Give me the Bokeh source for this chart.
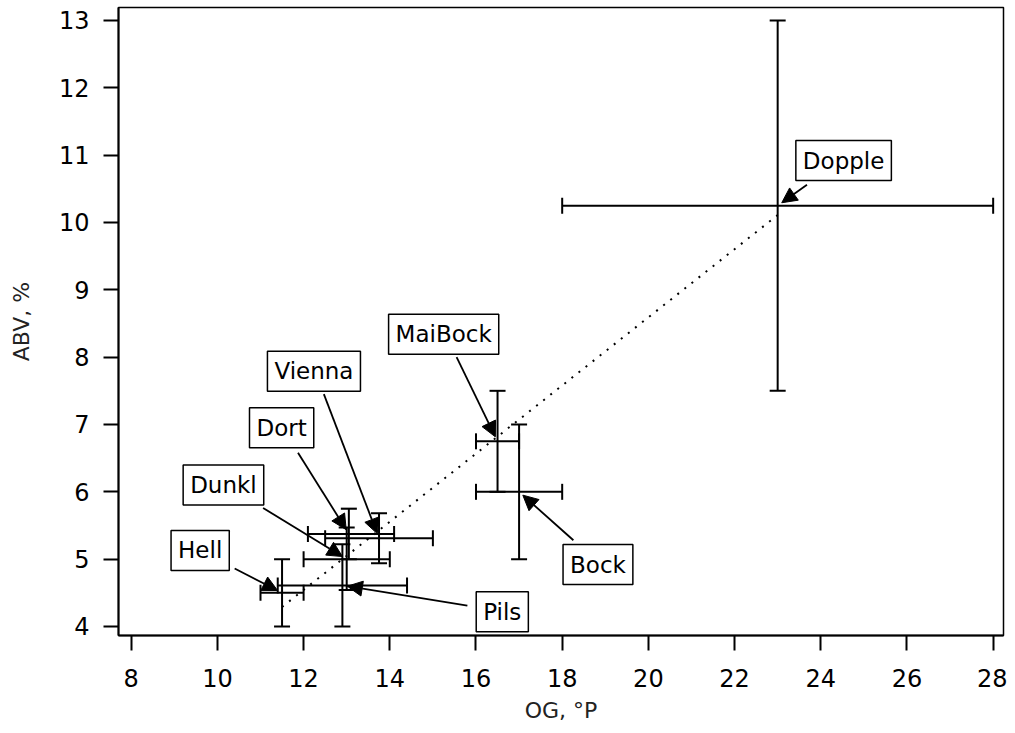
import math
from bokeh.plotting import figure
from bokeh.models import (ColumnDataSource, Whisker, TeeHead, Label, Arrow,
                          NormalHead, FixedTicker, Range1d)
from bokeh.embed import file_html
from bokeh.resources import INLINE

# ---------------- data ----------------
styles = ["Hell", "Pils", "Dunkl", "Dort", "Vienna", "MaiBock", "Bock", "Dopple"]
og     = [11.5, 12.9, 13.0, 13.05, 13.75, 16.5, 17.0, 23.0]
og_lo  = [11.0, 11.4, 12.0, 12.1, 12.5, 16.0, 16.0, 18.0]
og_hi  = [12.0, 14.4, 14.0, 14.1, 15.0, 17.0, 18.0, 28.0]
abv    = [4.5, 4.61, 5.0, 5.375, 5.31, 6.75, 6.0, 10.25]
abv_lo = [4.0, 4.0, 4.54, 5.0, 4.94, 6.0, 5.0, 7.5]
abv_hi = [5.0, 5.22, 5.47, 5.75, 5.68, 7.5, 7.0, 13.0]

trend_og  = [11.5, 23.0]
trend_abv = [4.29, 10.11]

x_ticks = [8, 10, 12, 14, 16, 18, 20, 22, 24, 26, 28]
y_ticks = [4, 5, 6, 7, 8, 9, 10, 11, 12, 13]

# label box centres and arrow start points (layout, data units)
lab_x = [9.60, 16.61, 10.14, 11.49, 12.24, 15.25, 18.83, 24.53]
lab_y = [5.13, 4.22, 6.10, 6.95, 7.79, 8.34, 4.92, 10.92]
arr_x = [10.40, 15.80, 11.06, 11.87, 12.47, 15.55, 18.26, 23.68]
arr_y = [4.86, 4.31, 5.76, 6.58, 7.45, 8.00, 5.28, 10.56]

# ---------------- figure ----------------
X0, X1 = 7.705, 28.24
Y0, Y1 = 3.866, 13.193
FW, FH = 885, 628
FONT = "DejaVu Sans"

p = figure(frame_width=FW, frame_height=FH,
           x_range=Range1d(X0, X1), y_range=Range1d(Y0, Y1),
           output_backend="svg", toolbar_location=None,
           min_border_left=118, min_border_right=4,
           min_border_top=7, min_border_bottom=95)
p.background_fill_color = "white"
p.border_fill_color = "white"
p.grid.visible = False
p.outline_line_color = "black"
p.outline_line_width = 1.5

for ax in (p.xaxis[0], p.yaxis[0]):
    ax.axis_line_width = 2
    ax.axis_line_color = "black"
    ax.major_tick_line_width = 2
    ax.major_tick_line_color = "black"
    ax.major_tick_out = 15
    ax.major_tick_in = 0
    ax.minor_tick_line_color = None
    ax.major_label_text_font = FONT
    ax.major_label_text_font_size = "24px"
    ax.major_label_text_color = "black"
    ax.axis_label_text_font = FONT
    ax.axis_label_text_font_size = "22px"
    ax.axis_label_text_font_style = "normal"
    ax.axis_label_text_color = "#222222"

p.xaxis.ticker = FixedTicker(ticks=x_ticks)
p.yaxis.ticker = FixedTicker(ticks=y_ticks)
p.xaxis.axis_label = "OG, °P"
p.yaxis.axis_label = "ABV, %"
p.xaxis.major_label_standoff = 18
p.yaxis.major_label_standoff = 14
p.xaxis.axis_label_standoff = 8
p.yaxis.axis_label_standoff = 22

src = ColumnDataSource(dict(style=styles, og=og, og_lo=og_lo, og_hi=og_hi,
                            abv=abv, abv_lo=abv_lo, abv_hi=abv_hi))

# dotted trend line
p.line(trend_og, trend_abv, line_color="black", line_width=2, line_dash="2 7")

# error bars
def tee():
    return TeeHead(size=16, line_width=2, line_color="black")

p.add_layout(Whisker(source=src, base="abv", lower="og_lo", upper="og_hi",
                     dimension="width", line_width=2, line_color="black",
                     upper_head=tee(), lower_head=tee()))
p.add_layout(Whisker(source=src, base="og", lower="abv_lo", upper="abv_hi",
                     dimension="height", line_width=2, line_color="black",
                     upper_head=tee(), lower_head=tee()))

# arrows (stop a few pixels short of the point)
sx = FW / (X1 - X0)
sy = FH / (Y1 - Y0)
for i in range(len(styles)):
    dxp = (og[i] - arr_x[i]) * sx
    dyp = (abv[i] - arr_y[i]) * sy
    L = math.hypot(dxp, dyp)
    k = 5.0 / L
    ex = og[i] - k * dxp / sx
    ey = abv[i] - k * dyp / sy
    p.add_layout(Arrow(x_start=arr_x[i], y_start=arr_y[i], x_end=ex, y_end=ey,
                       line_width=1.8, line_color="black",
                       end=NormalHead(size=15, fill_color="black",
                                      line_color="black", line_width=1)))

# label boxes
for i in range(len(styles)):
    p.add_layout(Label(x=lab_x[i], y=lab_y[i], text=styles[i],
                       text_font=FONT, text_font_size="23px",
                       text_color="black", text_align="center",
                       text_baseline="middle",
                       border_line_color="black", border_line_width=1.5,
                       background_fill_color="white", padding=7))

open("out.html", "w").write(file_html(p, INLINE))
